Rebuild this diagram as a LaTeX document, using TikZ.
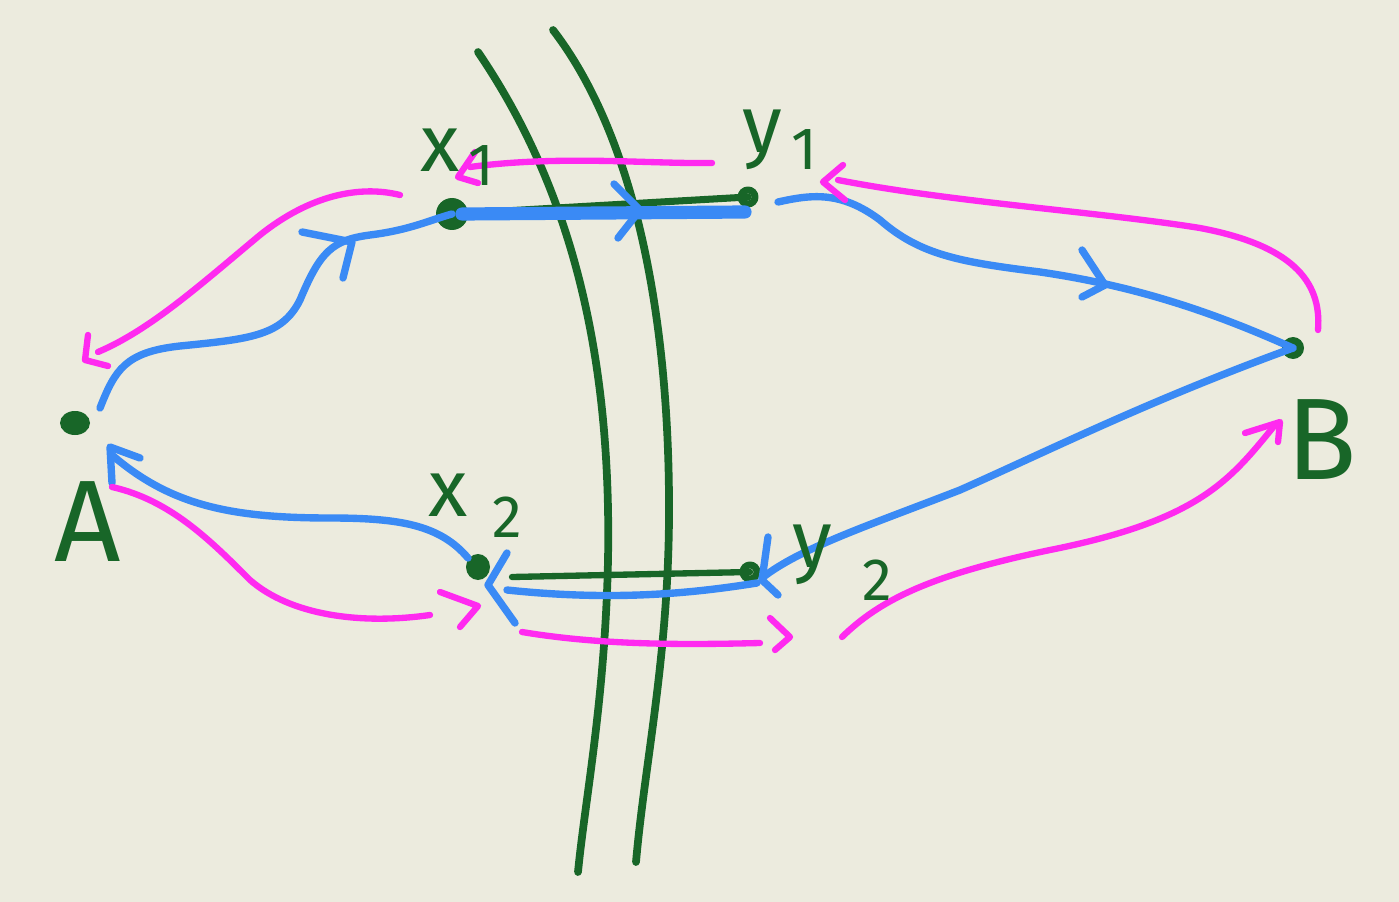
\documentclass[tikz,border=0pt]{standalone}
\usepackage{fontspec}
\setmainfont{Fira Sans}
\begin{document}
\begin{tikzpicture}[x=0.02cm,y=-0.02cm,
  line cap=round, line join=round,
  grn/.style={draw=dgreen, line width=4.4pt},
  blu/.style={draw=sblue, line width=4.2pt},
  mag/.style={draw=smag, line width=3.6pt},
  lbl/.style={text=dgreen, inner sep=0pt, font=\fontsize{46}{46}\selectfont},
  sub/.style={text=dgreen, inner sep=0pt, font=\fontsize{34}{34}\selectfont},
  big/.style={text=dgreen, inner sep=0pt, font=\fontsize{66}{66}\selectfont}]
\definecolor{paper}{RGB}{236,235,222}
\definecolor{dgreen}{RGB}{24,102,40}
\definecolor{sblue}{RGB}{58,138,245}
\definecolor{smag}{RGB}{255,42,240}
\fill[paper] (0,0) rectangle (1399,902);
\useasboundingbox (0,0) rectangle (1399,902);
% points
\coordinate (A) at (75,423);
\coordinate (B) at (1293,348);
\coordinate (X1) at (452,214);
\coordinate (Y1) at (748,197);
\coordinate (X2) at (478,567);
\coordinate (Y2) at (750,572);
% green arcs
\coordinate (L1) at (478,52); \coordinate (L2) at (578,872);
\coordinate (R1) at (553,30); \coordinate (R2) at (636,862);
\draw[grn] (L1) .. controls (565,180) and (612,340) .. (608,560) .. controls (605,700) and (585,800) .. (L2);
\draw[grn] (R1) .. controls (630,130) and (668,300) .. (669,500) .. controls (670,650) and (645,760) .. (R2);
% green segments
\draw[grn, line width=4pt] (X1) -- (Y1);
\coordinate (X2r) at (512,577);
\draw[grn, line width=3.6pt] (X2r) -- (Y2);
% dots
\fill[dgreen] (A) ellipse (15 and 12);
\fill[dgreen] (B) circle (11);
\fill[dgreen] (X1) circle (16);
\fill[dgreen] (X2) ellipse (12 and 13);
\draw[dgreen, line width=4pt] (Y1) circle (7);
\draw[dgreen, line width=4pt] (Y2) circle (7);
% blue paths
\coordinate (ba1) at (100,408);
\draw[blu] (ba1) .. controls (115,370) and (125,352) .. (180,346) .. controls (250,339) and (282,336) .. (300,300) .. controls (320,252) and (332,240) .. (370,235) .. controls (410,230) and (430,220) .. (X1);
\draw[blu] (302,232) -- (352,242) -- (343,278);
\coordinate (bx1) at (462,214); \coordinate (by1) at (745,212);
\draw[blu, line width=7.5pt] (bx1) -- (by1);
\draw[blu] (614,184) -- (640,210) -- (618,238);
\coordinate (bb1) at (778,202);
\draw[blu] (bb1) .. controls (810,195) and (840,190) .. (880,220) .. controls (920,255) and (960,262) .. (1040,272) .. controls (1150,288) and (1230,320) .. (B);
\draw[blu] (1082,250) -- (1105,285) -- (1082,297);
\coordinate (by2) at (762,578);
\draw[blu] (B) .. controls (1150,400) and (1050,450) .. (960,490) .. controls (870,525) and (800,548) .. (by2);
\draw[blu] (768,537) -- (762,580) -- (778,595);
\coordinate (by2b) at (757,583); \coordinate (bx2) at (507,590);
\draw[blu] (by2b) .. controls (700,592) and (620,602) .. (bx2);
\draw[blu] (507,553) -- (488,585) -- (515,623);
\coordinate (bx2a) at (468,558); \coordinate (ba2) at (112,455);
\draw[blu] (bx2a) .. controls (440,525) and (400,518) .. (330,518) .. controls (230,518) and (170,505) .. (ba2);
\draw[blu] (112,483) -- (110,447) -- (140,458);
% magenta paths
\coordinate (m1s) at (400,195); \coordinate (m1e) at (98,352);
\draw[mag] (m1s) .. controls (360,185) and (310,195) .. (260,235) .. controls (200,285) and (150,330) .. (m1e);
\draw[mag] (88,335) -- (85,360) -- (108,366);
\coordinate (m2s) at (712,163); \coordinate (m2e) at (470,167);
\draw[mag] (m2s) .. controls (650,164) and (560,155) .. (m2e);
\draw[mag] (475,152) -- (458,177) -- (478,183);
\coordinate (m3s) at (1318,330); \coordinate (m3e) at (838,180);
\draw[mag] (m3s) .. controls (1322,280) and (1290,245) .. (1200,228) .. controls (1100,212) and (950,202) .. (m3e);
\draw[mag] (843,165) -- (823,182) -- (845,200);
\coordinate (m4s) at (112,487); \coordinate (m4e) at (430,615);
\draw[mag] (m4s) .. controls (170,500) and (210,540) .. (250,580) .. controls (290,615) and (360,625) .. (m4e);
\draw[mag] (440,592) -- (478,606) -- (460,627);
\coordinate (m5s) at (522,632); \coordinate (m5e) at (760,643);
\draw[mag] (m5s) .. controls (600,645) and (680,645) .. (m5e);
\draw[mag] (770,618) -- (790,637) -- (775,650);
\coordinate (m6s) at (842,637); \coordinate (m6e) at (1275,425);
\draw[mag] (m6s) .. controls (880,600) and (930,575) .. (1050,550) .. controls (1200,520) and (1230,480) .. (m6e);
\draw[mag] (1245,433) -- (1280,422) -- (1278,442);
% labels
\node[big] (lA) at (88,522) {A};
\node[big] (lB) at (1322,440) {B};
\node[lbl] (lx1) at (440,150) {x};
\node[sub] (lx1s) at (481,166) {1};
\node[lbl] (ly1) at (762,140) {y};
\node[sub] (ly1s) at (804,150) {1};
\node[lbl] (lx2) at (448,495) {x};
\node[sub] (lx2s) at (507,517) {2};
\node[lbl] (ly2) at (812,555) {y};
\node[sub] (ly2s) at (877,580) {2};
\end{tikzpicture}
\end{document}
